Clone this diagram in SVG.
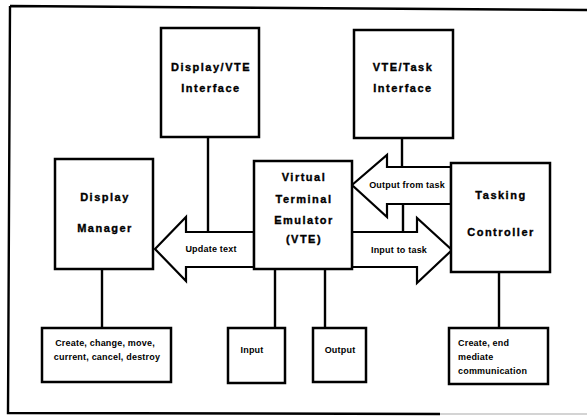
<svg xmlns="http://www.w3.org/2000/svg" width="587" height="416" viewBox="0 0 587 416">
<style>
.box{fill:#fff;stroke:#000;stroke-width:2.5}
.arrow{fill:#fff;stroke:#000;stroke-width:2.2;stroke-linejoin:miter}
.ln{stroke:#000;stroke-width:2.4;fill:none}
.t{font-family:"Liberation Sans",Arial,sans-serif;font-weight:bold;font-size:11px;letter-spacing:1.5px;text-anchor:middle;fill:#000;stroke:#000;stroke-width:0.35}
.s{font-family:"Liberation Sans",Arial,sans-serif;font-weight:bold;font-size:9px;letter-spacing:0.2px;fill:#000}
.m{text-anchor:middle}
</style>
<rect width="587" height="416" fill="#fff"/>
<g id="frame">
<path class="ln" d="M10,6 L587,10 M10,6 L8,413 L440,414"/>
<path d="M440,414 L587,414" stroke="#aaa" stroke-width="1.2"/>
</g>
<g id="connectors">
<line class="ln" x1="208" y1="137" x2="208" y2="232"/>
<line class="ln" x1="402" y1="138" x2="402" y2="167"/>
<line class="ln" x1="403" y1="204" x2="403" y2="232"/>
<line class="ln" x1="102" y1="269" x2="102" y2="328"/>
<line class="ln" x1="275" y1="269" x2="275" y2="328"/>
<line class="ln" x1="325" y1="269" x2="325" y2="328"/>
<line class="ln" x1="499" y1="272" x2="499" y2="328"/>
<g id="arrow-update">
<polygon class="arrow" points="155,249 186,217 186,232 254,232 254,267 186,267 186,281"/>
<text class="s m" x="211" y="252">Update text</text>
</g>
<g id="arrow-output">
<polygon class="arrow" points="352,185 387,155 387,167 451,167 451,204 387,204 387,217"/>
<text class="s m" x="407" y="188">Output from task</text>
</g>
<g id="arrow-input">
<polygon class="arrow" points="352,232 417,232 417,218 452,250 417,283 417,267 352,267"/>
<text class="s m" x="399" y="253">Input to task</text>
</g>
</g>
<g id="display-vte-interface">
<rect class="box" x="161" y="28" width="98" height="109"/>
<text class="t" x="211" y="71">Display/VTE</text>
<text class="t" x="211" y="92">Interface</text>
</g>
<g id="vte-task-interface">
<rect class="box" x="354" y="30" width="99" height="108"/>
<text class="t" x="403" y="71">VTE/Task</text>
<text class="t" x="403" y="92">Interface</text>
</g>
<g id="display-manager">
<rect class="box" x="55" y="159" width="98" height="110"/>
<text class="t" x="105" y="201">Display</text>
<text class="t" x="105" y="232">Manager</text>
</g>
<g id="vte">
<rect class="box" x="254" y="161" width="98" height="108"/>
<text class="t" x="304" y="181">Virtual</text>
<text class="t" x="304" y="203">Terminal</text>
<text class="t" x="304" y="224">Emulator</text>
<text class="t" x="304" y="243">(VTE)</text>
</g>
<g id="tasking-controller">
<rect class="box" x="451" y="163" width="99" height="109"/>
<text class="t" x="501" y="199">Tasking</text>
<text class="t" x="501" y="236">Controller</text>
</g>
<g id="dm-ops">
<rect class="box" x="42" y="328" width="129" height="54"/>
<text class="s m" x="105" y="346">Create, change, move,</text>
<text class="s m" x="107" y="360">current, cancel, destroy</text>
</g>
<g id="input">
<rect class="box" x="228" y="328" width="57" height="55"/>
<text class="s m" x="252" y="353">Input</text>
</g>
<g id="output">
<rect class="box" x="313" y="328" width="53" height="54"/>
<text class="s m" x="340" y="353">Output</text>
</g>
<g id="tc-ops">
<rect class="box" x="449" y="328" width="99" height="56"/>
<text class="s" x="458" y="346">Create, end</text>
<text class="s" x="458" y="360">mediate</text>
<text class="s" x="458" y="374">communication</text>
</g>
</svg>
